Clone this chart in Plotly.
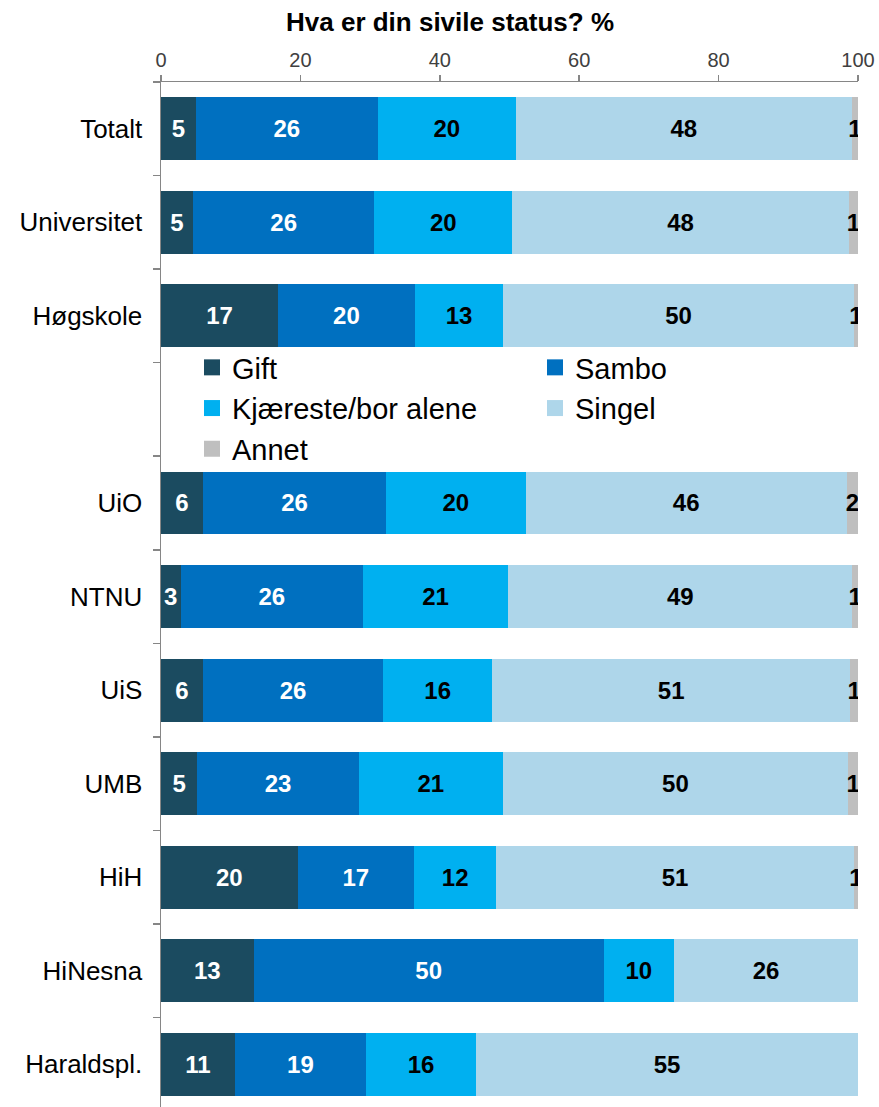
import plotly.graph_objects as go

categories = ["Totalt", "Universitet", "Høgskole", " ", "UiO", "NTNU", "UiS", "UMB", "HiH", "HiNesna", "Haraldspl."]
gift      = [5.0, 4.6, 16.8, None, 6.0, 2.8, 6.0, 5.2, 19.6, 13.3, 10.6]
sambo     = [26.1, 26.0, 19.6, None, 26.3, 26.2, 25.9, 23.2, 16.7, 50.2, 18.8]
kjaereste = [19.8, 19.8, 12.7, None, 20.0, 20.8, 15.6, 20.6, 11.8, 10.1, 15.8]
singel    = [48.2, 48.3, 50.3, None, 46.1, 49.4, 51.4, 49.6, 51.3, 26.4, 54.8]
annet     = [0.9, 1.3, 0.6, None, 1.6, 0.8, 1.1, 1.4, 0.6, None, None]

series_names = ["Gift", "Sambo", "Kjæreste/bor alene", "Singel", "Annet"]
x_ticks = [0, 20, 40, 60, 80, 100]
title_text = "Hva er din sivile status? %"

colors = ["#1B4B60", "#0070C0", "#00B0F0", "#AED6EA", "#BFBFBF"]
text_colors = ["white", "white", "black", "black", "black"]
legend_ids = ["legend", "legend2", "legend", "legend2", "legend"]
FONT = "Liberation Sans, Arial, sans-serif"

W, H = 879, 1107
ML, MT, MR = 161, 82, 21
PLOT_W = W - ML - MR
PLOT_H = H - MT
ROW_PX = 93.55
Y_BOTTOM = -0.5 + PLOT_H / ROW_PX

fig = go.Figure()
for name, vals, col, tcol in zip(series_names, [gift, sambo, kjaereste, singel, annet], colors, text_colors):
    fig.add_trace(go.Bar(
        y=categories, x=vals, orientation="h", name=name,
        marker=dict(color=col, line=dict(width=0)),
        width=0.673,
        texttemplate="%{x:.0f}", textposition="inside", insidetextanchor="middle",
        textangle=0,
        textfont=dict(family=FONT, size=24, color=tcol, weight="bold"),
        cliponaxis=True, showlegend=False, hoverinfo="skip",
    ))

# legend entries (two columns)
for name, col, lg in zip(series_names, colors, legend_ids):
    fig.add_trace(go.Scatter(
        x=[None], y=[None], mode="markers", name=name,
        marker=dict(symbol="square", size=16, color=col),
        showlegend=True, hoverinfo="skip", legend=lg,
    ))

legend_common = dict(
    orientation="v", yanchor="top", xanchor="left", traceorder="normal",
    font=dict(family=FONT, size=29, color="black"),
    bgcolor="rgba(0,0,0,0)", borderwidth=0,
)
LEG_TOP_PX = 342
leg_y = 1 - (LEG_TOP_PX - MT) / PLOT_H

fig.update_layout(
    width=W, height=H,
    margin=dict(l=ML, r=MR, t=MT, b=0, pad=0),
    barmode="stack", bargap=0,
    paper_bgcolor="white", plot_bgcolor="white",
    font=dict(family=FONT, color="black"),
    uniformtext=dict(minsize=24, mode="show"),
    legend=dict(x=(192 - ML) / PLOT_W, y=leg_y, **legend_common),
    legend2=dict(x=(535 - ML) / PLOT_W, y=leg_y, **legend_common),
    xaxis=dict(
        range=[0, 100], side="top", tickvals=x_ticks, ticktext=[str(t) for t in x_ticks],
        showgrid=False, zeroline=False, showline=True, linecolor="#868686", linewidth=1.5,
        ticks="outside", ticklen=6, tickcolor="#868686", tickwidth=1.5,
        tickfont=dict(family=FONT, size=20, color="#404040"),
        ticklabeloverflow="allow",
        automargin=False, fixedrange=True,
    ),
    yaxis=dict(
        categoryorder="array", categoryarray=categories,
        range=[Y_BOTTOM, -0.5],
        showgrid=False, zeroline=False, showline=True, linecolor="#868686", linewidth=1.5,
        ticks="outside", ticklen=7, tickcolor="#868686", tickwidth=1.5, tickson="boundaries",
        tickfont=dict(family=FONT, size=26, color="black"),
        ticklabelstandoff=12,
        automargin=False, fixedrange=True,
    ),
    annotations=[dict(
        text="<b>" + title_text + "</b>", xref="paper", yref="paper",
        x=(450 - ML) / PLOT_W, y=1 + (MT - 22) / PLOT_H, xanchor="center", yanchor="middle",
        showarrow=False, font=dict(family=FONT, size=26, color="black"),
    )],
)

# remove the browser's default 8px body margin so the figure fills the window exactly
fig.write_html(
    "out.html",
    config={"displayModeBar": False, "staticPlot": True},
    post_script="document.body.style.margin='0';document.body.style.overflow='hidden';",
)
